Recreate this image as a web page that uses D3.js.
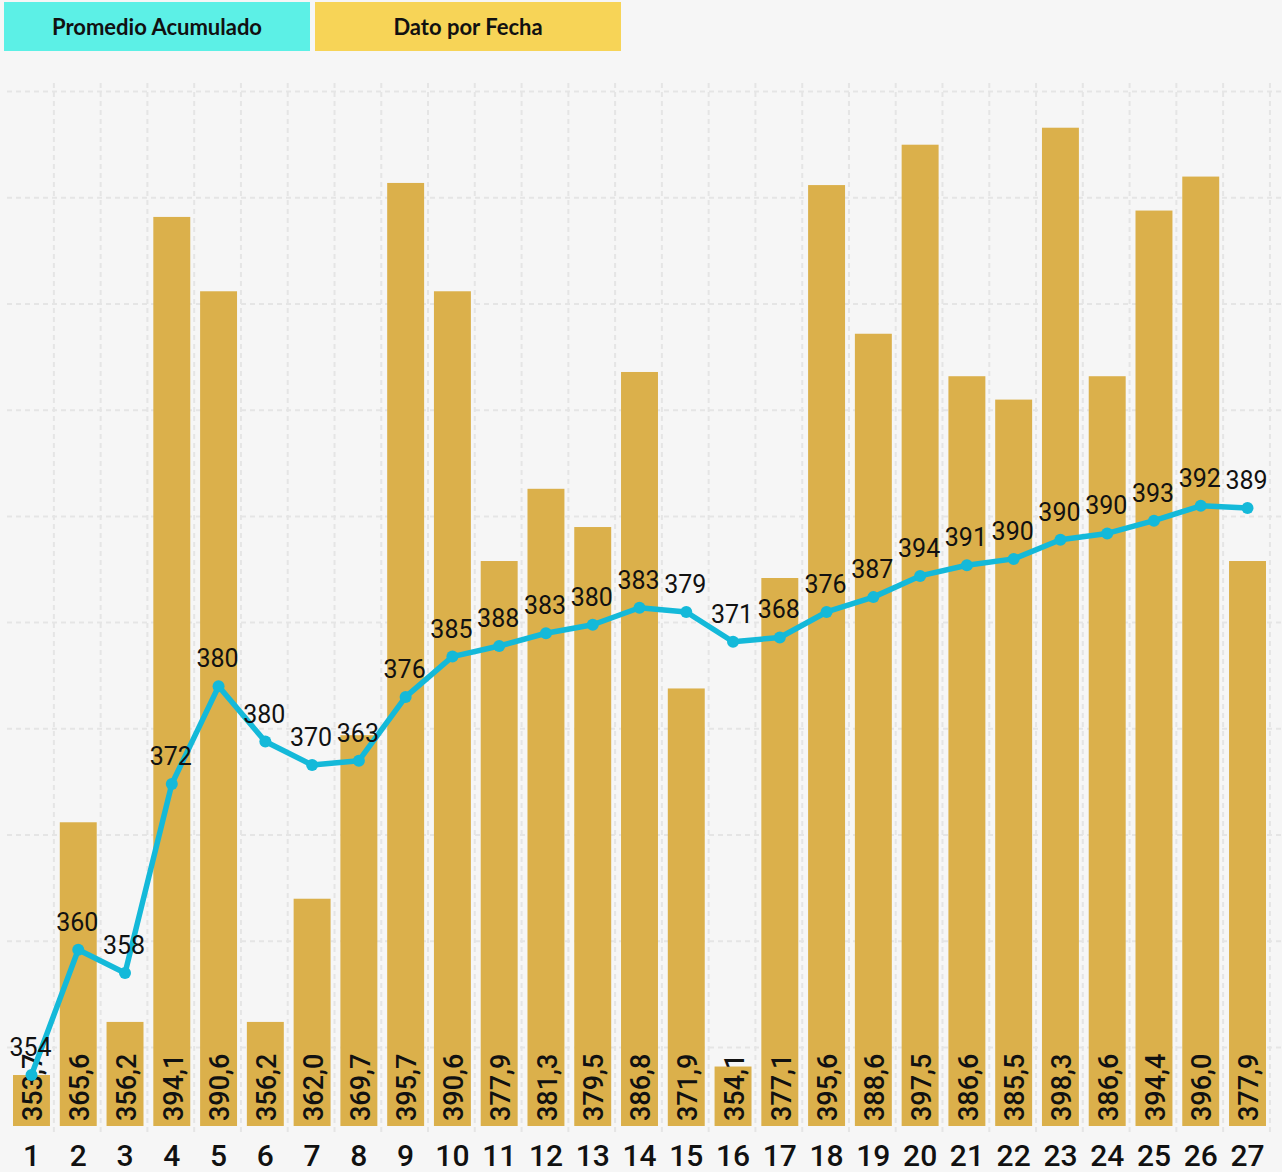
<!DOCTYPE html>
<html>
<head>
<meta charset="utf-8">
<script src="https://cdn.jsdelivr.net/npm/d3@7/dist/d3.min.js"></script>
<style>
  html, body { margin: 0; padding: 0; background: #f6f6f6; }
  svg { display: block; }
</style>
</head>
<body>
<svg id="chart" width="1282" height="1172"></svg>
<script>
// Fechas (categorías del eje X)
const fechas = ["1","2","3","4","5","6","7","8","9","10","11","12","13","14","15","16","17","18","19","20","21","22","23","24","25","26","27"];

// Dato por fecha (barras)
const datoPorFecha = [353.7, 365.6, 356.2, 394.1, 390.6, 356.2, 362.0, 369.7, 395.7, 390.6, 377.9, 381.3, 379.5, 386.8, 371.9, 354.1, 377.1, 395.6, 388.6, 397.5, 386.6, 385.5, 398.3, 386.6, 394.4, 396.0, 377.9];

// Promedio acumulado (línea)
const promedioAcumulado = [353.7, 359.6, 358.5, 367.4, 372.0, 369.4, 368.3, 368.5, 371.5, 373.4, 373.9, 374.5, 374.9, 375.7, 375.5, 374.1, 374.3, 375.5, 376.2, 377.2, 377.7, 378.0, 378.9, 379.2, 379.8, 380.5, 380.4];

// Etiquetas mostradas sobre los puntos de la línea
const etiquetasPromedio = ["354","360","358","372","380","380","370","363","376","385","388","383","380","383","379","371","368","376","387","394","391","390","390","390","393","392","389"];

// Líneas guía horizontales
const guiasY = [355, 360, 365, 370, 375, 380, 385, 390, 395, 400];

const svg = d3.select("#chart");
const W = 1282, H = 1172;

svg.append("rect").attr("width", W).attr("height", H).attr("fill", "#f6f6f6");

const x = d3.scaleBand()
  .domain(fechas)
  .range([8.1, 1270.9])
  .paddingInner(0.21)
  .paddingOuter(0.105);

const y = d3.scaleLinear()
  .domain([351.3, 400])
  .range([1126, 1126 - 48.7 * 21.24]);

// Cuadrícula
const grid = svg.append("g");
grid.selectAll("line.h")
  .data(guiasY)
  .join("line")
  .attr("class", "h")
  .attr("x1", 7).attr("x2", 1282)
  .attr("y1", d => y(d)).attr("y2", d => y(d))
  .attr("stroke", "#e5e5e5").attr("stroke-width", 2)
  .attr("stroke-dasharray", "5,4");

grid.selectAll("line.v")
  .data(fechas)
  .join("line")
  .attr("class", "v")
  .attr("x1", d => x(d) + x.step() - (x.step() - x.bandwidth()) / 2 - 1)
  .attr("x2", d => x(d) + x.step() - (x.step() - x.bandwidth()) / 2 - 1)
  .attr("y1", 83).attr("y2", 1136)
  .attr("stroke", "#e5e5e5").attr("stroke-width", 2)
  .attr("stroke-dasharray", "5,4");

// Barras
svg.append("g").selectAll("rect")
  .data(datoPorFecha)
  .join("rect")
  .attr("x", (d, i) => x(fechas[i]))
  .attr("width", x.bandwidth())
  .attr("y", d => y(d))
  .attr("height", d => y(351.3) - y(d))
  .attr("fill", "#dbb04b");

// Valores de las barras (verticales)
const fmt = v => v.toFixed(1).replace(".", ",");
svg.append("g").selectAll("text")
  .data(datoPorFecha)
  .join("text")
  .attr("transform", (d, i) => `translate(${x(fechas[i]) + x.bandwidth() / 2 + 1},1121) rotate(-90)`)
  .attr("dy", "0.36em")
  .attr("text-anchor", "start")
  .attr("font-family", "Roboto, sans-serif")
  .attr("font-weight", 500)
  .attr("font-size", 27)
  .attr("fill", "#111")
  .text(d => fmt(d));

// Línea de promedio acumulado
const cx = i => x(fechas[i]) + x.bandwidth() / 2;
const line = d3.line()
  .x((d, i) => cx(i))
  .y(d => y(d));

svg.append("path")
  .datum(promedioAcumulado)
  .attr("d", line)
  .attr("fill", "none")
  .attr("stroke", "#14b9d9")
  .attr("stroke-width", 5.5)
  .attr("stroke-linejoin", "round");

svg.append("g").selectAll("circle")
  .data(promedioAcumulado)
  .join("circle")
  .attr("cx", (d, i) => cx(i))
  .attr("cy", d => y(d))
  .attr("r", 6)
  .attr("fill", "#14b9d9");

svg.append("g").selectAll("text")
  .data(promedioAcumulado)
  .join("text")
  .attr("x", (d, i) => cx(i) - 1)
  .attr("y", d => y(d) - 19)
  .attr("text-anchor", "middle")
  .attr("font-family", "Roboto, sans-serif")
  .attr("font-weight", 400)
  .attr("font-size", 25)
  .attr("fill", "#111")
  .text((d, i) => etiquetasPromedio[i]);

// Eje X
const xAxis = svg.append("g")
  .attr("transform", "translate(0,1166)")
  .call(d3.axisBottom(x).tickSize(0).tickPadding(0));
xAxis.select(".domain").remove();
xAxis.selectAll("text")
  .attr("dy", 0)
  .attr("font-family", "Roboto, sans-serif")
  .attr("font-weight", 500)
  .attr("font-size", 30)
  .attr("fill", "#111");

// Leyenda
const leyenda = [
  { nombre: "Promedio Acumulado", color: "#5cf0e6", x: 4 },
  { nombre: "Dato por Fecha", color: "#f7d457", x: 315 }
];
const lg = svg.append("g").selectAll("g")
  .data(leyenda)
  .join("g")
  .attr("transform", d => `translate(${d.x},2)`);
lg.append("rect")
  .attr("width", 306).attr("height", 49)
  .attr("fill", d => d.color);
lg.append("text")
  .attr("x", 153).attr("y", 25)
  .attr("dy", "0.35em")
  .attr("text-anchor", "middle")
  .attr("font-family", "Lato, sans-serif")
  .attr("font-weight", 700)
  .attr("font-size", 22)
  .attr("fill", "#111")
  .text(d => d.nombre);
</script>
</body>
</html>
